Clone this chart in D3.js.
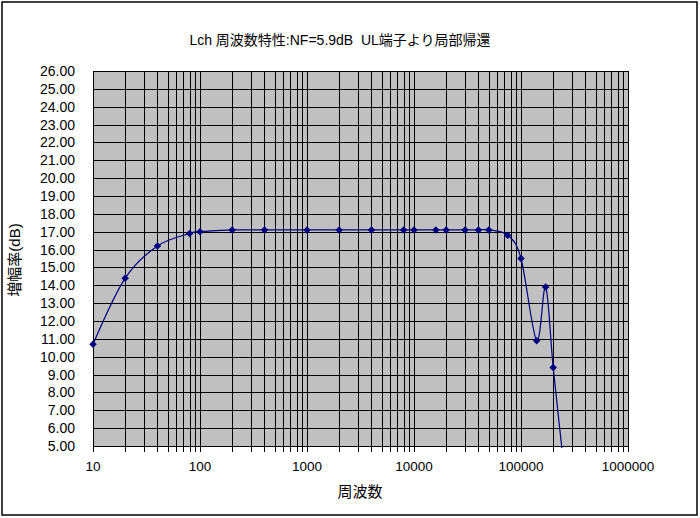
<!DOCTYPE html>
<html><head><meta charset="utf-8">
<script src="https://cdn.jsdelivr.net/npm/d3@7"></script>
<style>body{margin:0;background:#fff;}svg{display:block;}</style>
</head><body>
<svg id="c" width="700" height="518"></svg>
<script>
const titleText = "Lch 周波数特性:NF=5.9dB\u00a0\u00a0UL端子より局部帰還";
const xTitle = "周波数";
const yTitle = "増幅率(dB)";
const freq = [10,20,40,80,100,200,400,1000,2000,4000,8000,10000,16000,20000,30000,40000,50000,75000,100000,140000,170000,200000,250000];
const gain = [10.7,14.4,16.2,16.9,17.0,17.1,17.1,17.1,17.1,17.1,17.1,17.1,17.1,17.1,17.1,17.1,17.1,16.8,15.5,10.9,13.9,9.4,4.0];
const xTickLabels = [10,100,1000,10000,100000,1000000];
const yMin = 5, yMax = 26;

const svg = d3.select("#c");
const L = 93, R = 628, T = 71, B = 446;
const x = d3.scaleLog().domain([10,1000000]).range([L,R]);
const y = d3.scaleLinear().domain([yMin,yMax]).range([B,T]);
const px = v => Math.round(v) + 0.5;

// outer border
svg.append("rect").attr("x",2).attr("y",2).attr("width",695).attr("height",513)
  .attr("fill","#fff").attr("stroke","#000").attr("stroke-width",1.5);

// plot background
svg.append("rect").attr("x",L).attr("y",T).attr("width",R-L).attr("height",B-T).attr("fill","#c0c0c0");

const g = svg.append("g");
const minor = [];
for (let d = 10; d < 1000000; d *= 10) for (let k = 1; k < 10; k++) minor.push(d*k);
minor.push(1000000);
g.selectAll("line.v").data(minor).join("line")
  .attr("x1",d=>px(x(d))).attr("x2",d=>px(x(d))).attr("y1",T).attr("y2",B+6)
  .attr("stroke","#000").attr("stroke-width",1);
const yt = d3.range(yMin, yMax+1, 1);
g.selectAll("line.h").data(yt).join("line")
  .attr("x1",L).attr("x2",R+1).attr("y1",d=>px(y(d))).attr("y2",d=>px(y(d)))
  .attr("stroke","#000").attr("stroke-width",1);

svg.selectAll("text.yl").data(yt).join("text")
  .attr("x",75).attr("y",d=>y(d)+5).attr("text-anchor","end")
  .attr("font-family","Liberation Sans, Arial, sans-serif").attr("font-size",14)
  .text(d=>d.toFixed(2));
svg.selectAll("text.xl").data(xTickLabels).join("text")
  .attr("x",d=>x(d)).attr("y",471).attr("text-anchor","middle")
  .attr("font-family","Liberation Sans, Arial, sans-serif").attr("font-size",13.5)
  .text(d=>String(d));

svg.append("text").attr("x",340).attr("y",45).attr("text-anchor","middle")
  .attr("font-family","Liberation Sans, 'Noto Sans CJK JP', sans-serif").attr("font-size",14)
  .text(titleText);
svg.append("text").attr("x",360).attr("y",497).attr("text-anchor","middle")
  .attr("font-family","'Noto Sans CJK JP', sans-serif").attr("font-size",15)
  .text(xTitle);
svg.append("text").attr("transform","translate(20,260) rotate(-90)").attr("text-anchor","middle")
  .attr("font-family","Liberation Sans, 'Noto Sans CJK JP', sans-serif").attr("font-size",15)
  .text(yTitle);

const data = freq.map((f,i)=>({f, v:gain[i]}));
svg.append("clipPath").attr("id","clip").append("rect").attr("x",L).attr("y",T).attr("width",R-L).attr("height",B-T+2);
const line = d3.line().x(d=>x(d.f)).y(d=>y(d.v)).curve(d3.curveCardinal.tension(0));
svg.append("path").datum(data).attr("d",line).attr("fill","none")
  .attr("stroke","#000080").attr("stroke-width",1.2).attr("clip-path","url(#clip)");
const sym = d3.symbol().type(d3.symbolDiamond2).size(36);
svg.selectAll("path.m").data(data.filter(d=>d.v>=yMin)).join("path")
  .attr("transform",d=>`translate(${x(d.f)},${y(d.v)})`).attr("d",sym).attr("fill","#000080");
</script>
</body></html>
